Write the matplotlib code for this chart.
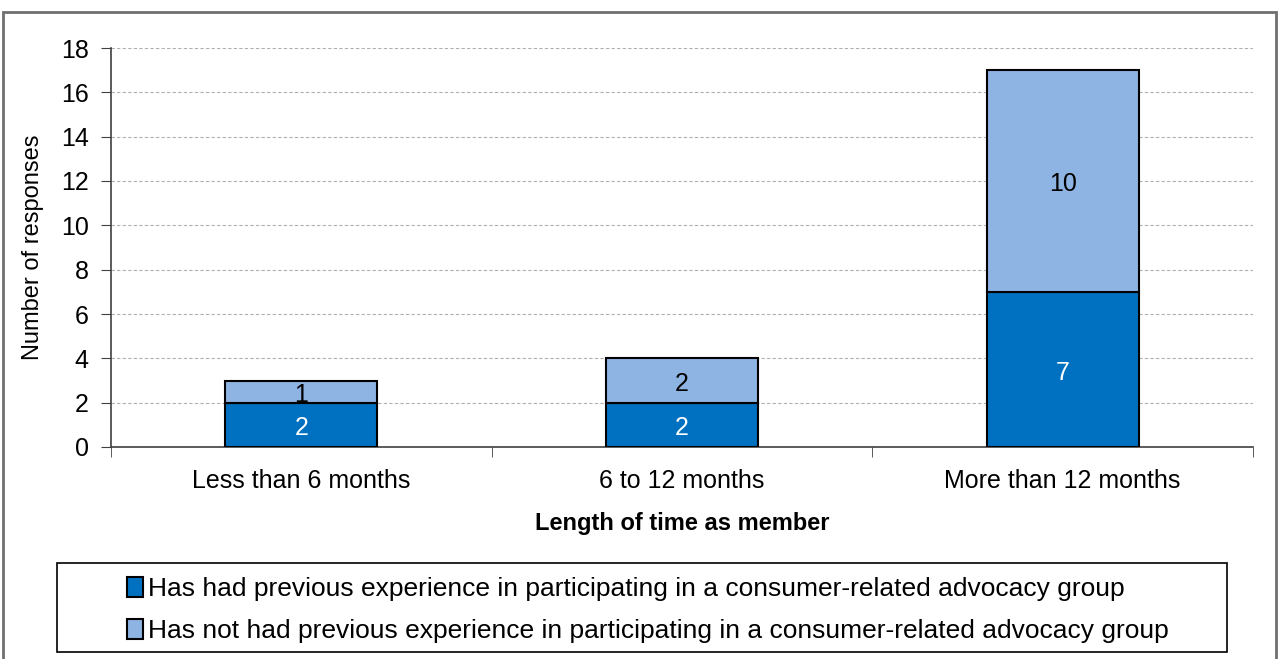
import matplotlib
matplotlib.use("Agg")
import matplotlib.pyplot as plt
from matplotlib.patches import Rectangle
import numpy as np

plt.rcParams['font.family'] = ['Liberation Sans', 'DejaVu Sans']

categories = ["Less than 6 months", "6 to 12 months", "More than 12 months"]
had_experience = [2, 2, 7]
not_had_experience = [1, 2, 10]
series_labels = [
    "Has had previous experience in participating in a consumer-related advocacy group",
    "Has not had previous experience in participating in a consumer-related advocacy group",
]
yticks = [0, 2, 4, 6, 8, 10, 12, 14, 16, 18]

W, H = 1278, 659
fig = plt.figure(figsize=(W / 100, H / 100), dpi=100)
ax = fig.add_axes([111 / W, 1 - 447 / H, (1253 - 111) / W, (447 - 48) / H])

dark = "#0070C0"
light = "#8EB4E3"
x = np.arange(len(categories))
b1 = ax.bar(x, had_experience, width=0.4, color=dark, edgecolor="black", linewidth=1.5,
            label=series_labels[0], zorder=3)
b2 = ax.bar(x, not_had_experience, width=0.4, bottom=had_experience, color=light,
            edgecolor="black", linewidth=1.5, label=series_labels[1], zorder=3)

for xi, v in zip(x, had_experience):
    ax.text(xi, v / 2 - 0.15, str(v), ha="center", va="center", color="white", fontsize=18, zorder=4)
for xi, b, v in zip(x, had_experience, not_had_experience):
    ax.text(xi, b + v / 2 - 0.15, str(v), ha="center", va="center", color="black", fontsize=18, zorder=4)

ax.set_xlim(-0.5, 2.5)
ax.set_ylim(0, 18)
ax.set_yticks(yticks)
ax.tick_params(axis="y", labelsize=18, length=7, direction="out", color="#404040", pad=9)
ax.set_xticks(x)
ax.set_xticklabels(categories, fontsize=18)
ax.set_xticks([-0.5, 0.5, 1.5, 2.5], minor=True)
ax.tick_params(axis="x", which="major", length=0, pad=16)
ax.tick_params(axis="x", which="minor", length=7, direction="out", color="#404040")
ax.grid(axis="y", linestyle=(0, (3, 2)), color="#b0b0b0", linewidth=0.8, zorder=0)
for s in ["top", "right"]:
    ax.spines[s].set_visible(False)
for s in ["left", "bottom"]:
    ax.spines[s].set_color("#404040")
    ax.spines[s].set_linewidth(1.2)

ax.set_ylabel("Number of responses", fontsize=17)
ax.yaxis.set_label_coords((44 - 111) / (1253 - 111), (447 - 247) / (447 - 48))
ax.set_xlabel("Length of time as member", fontsize=17, fontweight="bold")
ax.xaxis.set_label_coords(0.5, -(512 - 447) / (447 - 48))

# outer chart frame
fig.patches.append(Rectangle((3 / W, -0.05), (1276 - 3) / W, 1.05 - 12 / H, transform=fig.transFigure,
                             fill=False, edgecolor="#707070", linewidth=2))
# legend box
fig.patches.append(Rectangle((57 / W, 1 - 652 / H), (1227 - 57) / W, (652 - 563) / H,
                             transform=fig.transFigure, fill=False, edgecolor="black", linewidth=1.2))
fig.legend(handles=[b1, b2], labels=series_labels, loc="center",
           bbox_to_anchor=(648 / W, 1 - 610 / H), frameon=False, fontsize=19,
           handlelength=0.6, handleheight=0.8, handletextpad=0.2, labelspacing=0.65,
           borderpad=0)

fig.savefig("out.png", dpi=100)
